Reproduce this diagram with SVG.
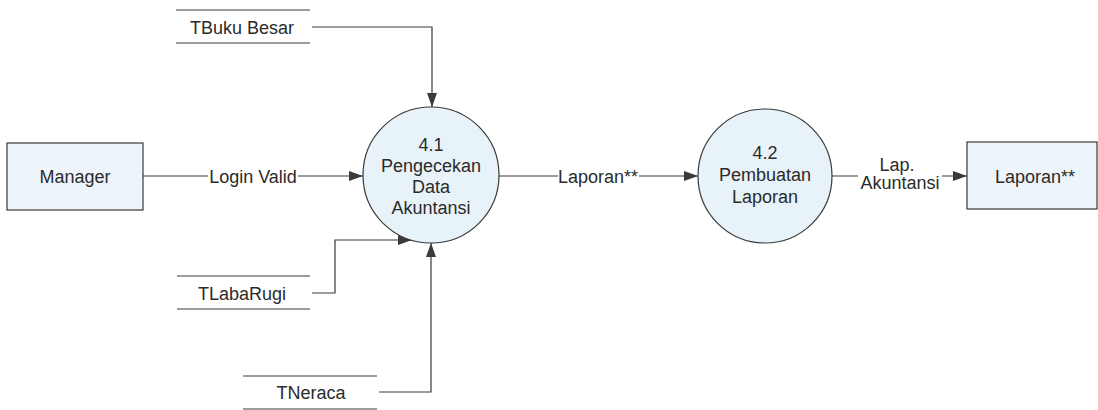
<svg xmlns="http://www.w3.org/2000/svg" width="1098" height="410" viewBox="0 0 1098 410">
  <defs>
    <marker id="arrow" viewBox="0 0 14 10" refX="14" refY="5" markerWidth="14" markerHeight="10" markerUnits="userSpaceOnUse" orient="auto">
      <path d="M0,0 L14,5 L0,10 Z" fill="#3a3a3a"/>
    </marker>
  </defs>
  <style>
    text { font-family: "Liberation Sans", Arial, sans-serif; font-size: 18px; fill: #2b2b2b; text-anchor: middle; }
    .entity { fill: #edf5fa; stroke: #3a3a3a; stroke-width: 1.2; }
    .process { fill: #e8f3f9; stroke: #3a3a3a; stroke-width: 1.2; }
    .store { stroke: #3a3a3a; stroke-width: 1.2; }
    .flow { fill: none; stroke: #3a3a3a; stroke-width: 1.2; }
    .label-bg { fill: #ffffff; }
  </style>
  <rect width="1098" height="410" fill="#ffffff"/>

  <!-- data flows -->
  <g id="connectors">
    <!-- Manager -> 4.1 -->
    <line class="flow" x1="143" y1="176" x2="363" y2="176" marker-end="url(#arrow)"/>
    <rect class="label-bg" x="208" y="164" width="90" height="24"/>
    <text x="253" y="182.5">Login Valid</text>

    <!-- 4.1 -> 4.2 -->
    <line class="flow" x1="499" y1="176" x2="698" y2="176" marker-end="url(#arrow)"/>
    <rect class="label-bg" x="558" y="164" width="81" height="24"/>
    <text x="598" y="182.5">Laporan**</text>

    <!-- 4.2 -> Laporan** -->
    <line class="flow" x1="832" y1="176" x2="967" y2="176" marker-end="url(#arrow)"/>
    <rect class="label-bg" x="858" y="152" width="84" height="42"/>
    <text x="897" y="171">Lap.</text>
    <text x="900" y="189">Akuntansi</text>

    <!-- TBuku Besar -> 4.1 -->
    <polyline class="flow" points="312,27 432,27 432,107" marker-end="url(#arrow)"/>
    <!-- TLabaRugi -> 4.1 -->
    <polyline class="flow" points="312,293 335,293 335,240 412,240" marker-end="url(#arrow)"/>
    <!-- TNeraca -> 4.1 -->
    <polyline class="flow" points="379,392 431,392 431,243" marker-end="url(#arrow)"/>
  </g>

  <!-- external entities -->
  <g id="manager">
    <rect class="entity" x="7" y="143" width="136" height="67"/>
    <text x="75" y="182.5">Manager</text>
  </g>
  <g id="laporan-out">
    <rect class="entity" x="967" y="142" width="130" height="67"/>
    <text x="1035" y="182.5">Laporan**</text>
  </g>

  <!-- processes -->
  <g id="proc-4-1">
    <circle class="process" cx="431" cy="175" r="68"/>
    <text x="431" y="150.5">4.1</text>
    <text x="431" y="171.5">Pengecekan</text>
    <text x="431" y="192.5">Data</text>
    <text x="431" y="213.5">Akuntansi</text>
  </g>
  <g id="proc-4-2">
    <circle class="process" cx="765" cy="176" r="67"/>
    <text x="765" y="159">4.2</text>
    <text x="765" y="181">Pembuatan</text>
    <text x="765" y="203">Laporan</text>
  </g>

  <!-- data stores -->
  <g id="store-tbuku-besar">
    <line class="store" x1="176" y1="10" x2="310" y2="10"/>
    <line class="store" x1="176" y1="43" x2="310" y2="43"/>
    <text x="242" y="33.5">TBuku Besar</text>
  </g>
  <g id="store-tlabarugi">
    <line class="store" x1="177" y1="276" x2="310" y2="276"/>
    <line class="store" x1="177" y1="309" x2="310" y2="309"/>
    <text x="242" y="299.5">TLabaRugi</text>
  </g>
  <g id="store-tneraca">
    <line class="store" x1="243" y1="376" x2="377" y2="376"/>
    <line class="store" x1="243" y1="409" x2="377" y2="409"/>
    <text x="311" y="398.5">TNeraca</text>
  </g>
</svg>
